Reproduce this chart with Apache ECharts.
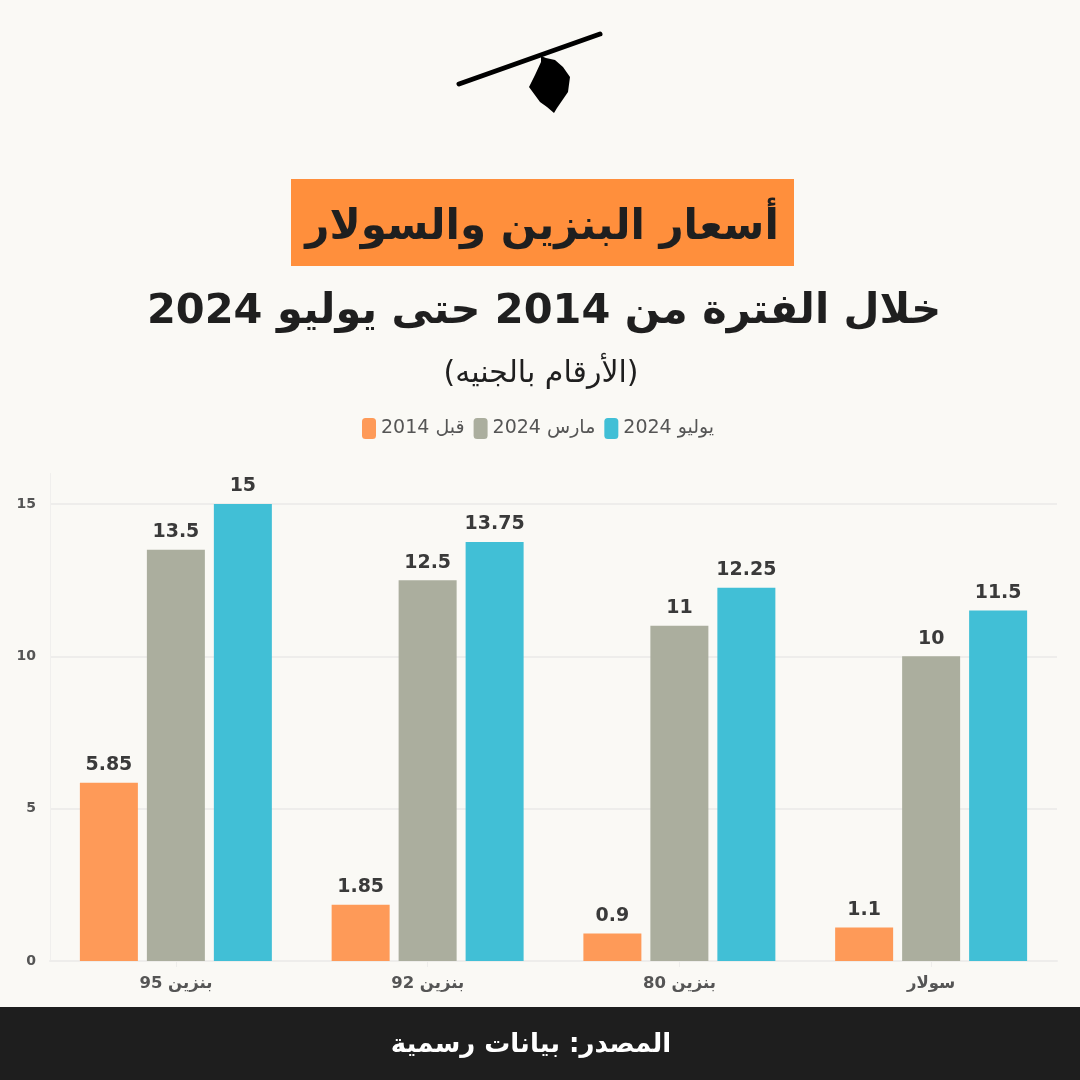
<!DOCTYPE html>
<html dir="rtl">
<head>
<meta charset="utf-8">
<style>
  html, body { margin: 0; padding: 0; background: #faf9f5; }
  #chart { width: 1080px; height: 1080px; }
</style>
<script src="https://cdn.jsdelivr.net/npm/echarts@6/dist/echarts.min.js"></script>
</head>
<body>
<div id="chart"></div>
<script>
const categories = ['بنزين 95', 'بنزين 92', 'بنزين 80', 'سولار']
const before2014 = [5.85, 1.85, 0.9, 1.1]
const march2024 = [13.5, 12.5, 11, 10]
const july2024 = [15, 13.75, 12.25, 11.5]
const seriesNames = ['قبل 2014', 'مارس 2024', 'يوليو 2024']

const titleText = 'أسعار البنزين والسولار'
const subtitleText = 'خلال الفترة من 2014 حتى يوليو 2024'
const unitText = '(الأرقام بالجنيه)'
const sourceText = 'المصدر: بيانات رسمية'

const FONT = '"DejaVu Sans", sans-serif'

function barSeries (name, data, color) {
  return {
    name,
    type: 'bar',
    data,
    barWidth: 58,
    barGap: '15.5%',
    itemStyle: {color},
    label: {
      show: true,
      position: 'top',
      distance: 8,
      fontFamily: FONT,
      fontWeight: 'bold',
      fontSize: 19,
      color: '#3a3a3a',
    },
  }
}

const chart = echarts.init(document.getElementById('chart'), null, {renderer: 'canvas'})
chart.setOption({
  animation: false,
  backgroundColor: '#faf9f5',
  textStyle: {fontFamily: FONT},
  grid: {left: 50, right: 23, top: 473.5, bottom: 119},
  legend: {
    data: seriesNames,
    top: 413,
    left: 357,
    itemWidth: 14,
    itemHeight: 21,
    itemGap: 9,
    icon: 'roundRect',
    textStyle: {fontFamily: FONT, fontSize: 19, color: '#555'},
  },
  xAxis: {
    type: 'category',
    data: categories,
    axisLine: {lineStyle: {color: '#eeedeb', width: 2}},
    axisTick: {show: true, alignWithLabel: true, length: 6, lineStyle: {color: '#eeedeb'}},
    axisLabel: {margin: 14, fontFamily: FONT, fontWeight: 'bold', fontSize: 16.5, color: '#555'},
  },
  yAxis: {
    type: 'value',
    min: 0,
    max: 16,
    interval: 5,
    axisLine: {show: true, lineStyle: {color: '#f0efed', width: 1}},
    axisTick: {show: false},
    splitLine: {showMaxLine: false, lineStyle: {color: '#eeedeb', width: 2}},
    axisLabel: {
      showMaxLabel: false,
      margin: 14,
      fontFamily: FONT,
      fontWeight: 'bold',
      fontSize: 14,
      color: '#555',
    },
  },
  series: [
    barSeries(seriesNames[0], before2014, '#fe9a58'),
    barSeries(seriesNames[1], march2024, '#abae9e'),
    barSeries(seriesNames[2], july2024, '#41bfd6'),
  ],
  graphic: [
    // logo: stick and bundle
    {type: 'polyline', shape: {points: [[459, 84], [600, 34]]}, style: {stroke: '#000', lineWidth: 5, lineCap: 'round', fill: null}},
    {type: 'polygon', shape: {points: [[541, 56], [546, 58], [555, 60], [563, 67], [570, 77], [568, 92], [557, 108], [554, 113], [547, 107], [540, 102], [529, 87], [535, 75], [541, 62]]}, style: {fill: '#000'}},
    // title block
    {type: 'rect', shape: {x: 291, y: 179, width: 503, height: 87}, style: {fill: '#ff8f3c'}},
    {type: 'text', x: 542, y: 228, style: {text: titleText, font: 'bold 42px ' + FONT, fill: '#1f1f1f', textAlign: 'center', textVerticalAlign: 'middle'}},
    {type: 'text', x: 544, y: 312, style: {text: subtitleText, font: 'bold 41.5px ' + FONT, fill: '#1f1f1f', textAlign: 'center', textVerticalAlign: 'middle'}},
    {type: 'text', x: 541, y: 374, style: {text: unitText, font: '30px ' + FONT, fill: '#1f1f1f', textAlign: 'center', textVerticalAlign: 'middle'}},
    // source footer
    {type: 'rect', shape: {x: 0, y: 1007, width: 1080, height: 73}, style: {fill: '#1e1e1e'}},
    {type: 'text', x: 531, y: 1045, style: {text: sourceText, font: 'bold 26px ' + FONT, fill: '#fff', textAlign: 'center', textVerticalAlign: 'middle'}},
  ],
})
</script>
</body>
</html>
